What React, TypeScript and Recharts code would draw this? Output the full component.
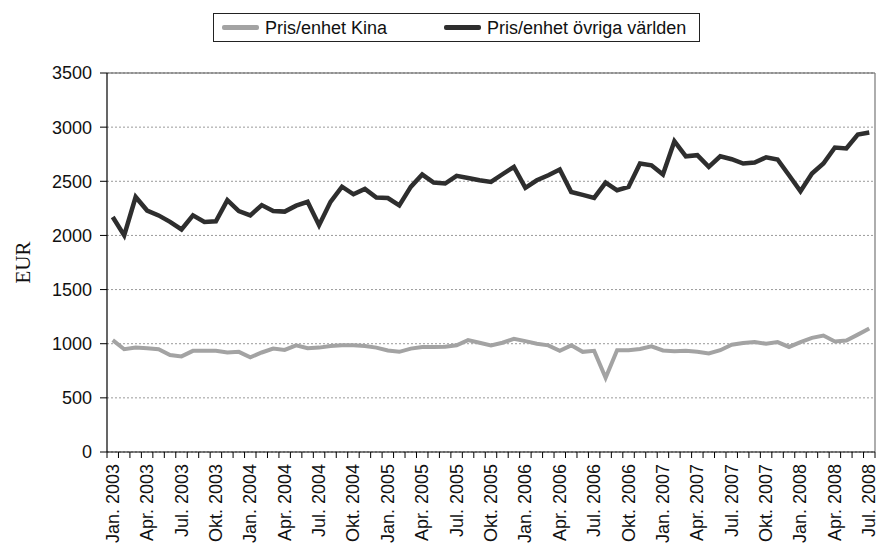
import React from 'react'
import {
  LineChart, Line, XAxis, YAxis, CartesianGrid, ReferenceLine,
} from 'recharts'

// ─── Colours / fonts ──────────────────────────────────────────────────────────
const DARK  = '#2e2e2e'
const LIGHT = '#a3a3a3'
const GRID  = '#9a9a9a'
const SANS  = '"Liberation Sans", Arial, sans-serif'
const SERIF = '"Liberation Serif", "Times New Roman", serif'

// ─── Data ─────────────────────────────────────────────────────────────────────
const MONTH_NAMES = ['Jan.', 'Feb.', 'Mar.', 'Apr.', 'Maj', 'Jun.', 'Jul.', 'Aug.', 'Sep.', 'Okt.', 'Nov.', 'Dec.']
const YEARS = [2003, 2004, 2005, 2006, 2007, 2008]
const LAST_MONTH_2008 = 6 // Jul.

// Pris/enhet övriga världen (EUR), Jan. 2003 – Jul. 2008
const OVRIGA = [
  2170, 2000, 2355, 2230, 2185, 2125, 2055, 2185, 2125, 2130, 2325, 2225,
  2185, 2280, 2225, 2220, 2275, 2310, 2095, 2310, 2450, 2380, 2430, 2350,
  2345, 2278, 2448, 2562, 2488, 2479, 2550, 2531, 2509, 2494, 2565, 2633,
  2439, 2509, 2556, 2608, 2401, 2374, 2346, 2488, 2417, 2448, 2664, 2648,
  2562, 2870, 2731, 2741, 2633, 2731, 2704, 2664, 2673, 2722, 2701, 2556,
  2408, 2571, 2664, 2812, 2803, 2932, 2951,
]

// Pris/enhet Kina (EUR)
const KINA = [
  1033, 949, 964, 958, 949, 895, 883, 934, 934, 934, 919, 925,
  874, 919, 955, 943, 985, 958, 964, 979, 985, 985, 979, 964,
  937, 925, 955, 970, 970, 973, 985, 1033, 1009, 985, 1009, 1045,
  1024, 1000, 985, 934, 985, 925, 934, 685, 940, 940, 952, 976,
  938, 931, 934, 925, 910, 940, 991, 1006, 1015, 1000, 1015, 970,
  1015, 1054, 1075, 1021, 1030, 1084, 1140,
]

const Y_TICKS = [0, 500, 1000, 1500, 2000, 2500, 3000, 3500]
const LABEL_EVERY = 3

const MONTHS: string[] = []
YEARS.forEach(y => {
  MONTH_NAMES.forEach((m, i) => {
    if (y === 2008 && i > LAST_MONTH_2008) return
    MONTHS.push(`${m} ${y}`)
  })
})

const data = MONTHS.map((label, i) => ({ i, label, kina: KINA[i], ovriga: OVRIGA[i] }))
const N = data.length

// ─── Layout ───────────────────────────────────────────────────────────────────
const W = 878
const H = 547
const PLOT_LEFT = 107
const PLOT_RIGHT = 875
const BAND = (PLOT_RIGHT - PLOT_LEFT) / N

// ─── X tick: boundary tick marks + rotated label every third month ───────────
function MonthTick({ x, y, payload }: { x: number; y: number; payload: { value: number } }) {
  const idx = payload.value
  const showLabel = idx % LABEL_EVERY === 0
  const top = y - 8
  return (
    <g>
      <line x1={x - BAND / 2} x2={x - BAND / 2} y1={top} y2={top + 6} stroke="#000" strokeWidth={1} />
      {idx === N - 1 && (
        <line x1={x + BAND / 2} x2={x + BAND / 2} y1={top} y2={top + 6} stroke="#000" strokeWidth={1} />
      )}
      {showLabel && (
        <text
          x={0} y={0}
          transform={`translate(${x},${top + 12}) rotate(-90)`}
          textAnchor="end" dominantBaseline="central"
          fontSize={18} fontFamily={SANS} fill="#111"
        >
          {MONTHS[idx]}
        </text>
      )}
    </g>
  )
}

// ─── Legend box ───────────────────────────────────────────────────────────────
function LegendBox() {
  const item = (color: string, text: string) => (
    <span style={{ display: 'inline-flex', alignItems: 'center' }}>
      <span style={{ display: 'inline-block', width: 37, height: 5, borderRadius: 2, background: color, marginRight: 6 }} />
      <span>{text}</span>
    </span>
  )
  return (
    <div style={{
      position: 'absolute', left: 213, top: 13,
      border: '1.5px solid #222', width: 487, height: 29, boxSizing: 'border-box',
      display: 'flex', alignItems: 'center', paddingLeft: 8, gap: 57,
      fontFamily: SANS, fontSize: 18, color: '#111', background: '#fff', lineHeight: 1,
    }}>
      {item(LIGHT, 'Pris/enhet Kina')}
      {item(DARK, 'Pris/enhet övriga världen')}
    </div>
  )
}

function EurLabel({ viewBox }: { viewBox?: { x: number; y: number; width: number; height: number } }) {
  if (!viewBox) return null
  const cx = viewBox.x + 23
  const cy = viewBox.y + viewBox.height / 2
  return (
    <text x={0} y={0} transform={`translate(${cx},${cy}) rotate(-90)`} textAnchor="middle" dominantBaseline="central"
      fontSize={21} fontFamily={SERIF} fill="#111">
      EUR
    </text>
  )
}

export default function App() {
  return (
    <div style={{ position: 'absolute', left: 0, top: 0, width: W, height: H, background: '#fff' }}>
      <LineChart width={W} height={H} data={data} margin={{ top: 73, right: W - PLOT_RIGHT, left: 0, bottom: 0 }}>
        <CartesianGrid stroke={GRID} strokeDasharray="2 2" vertical={false} />
        <XAxis
          dataKey="i" type="number" domain={[-0.5, N - 0.5]}
          ticks={data.map(d => d.i)} interval={0}
          tick={MonthTick as never} tickLine={false}
          axisLine={{ stroke: '#000', strokeWidth: 1.2 }}
          height={95}
        />
        <YAxis
          domain={[0, 3500]} ticks={Y_TICKS} width={PLOT_LEFT}
          tick={{ fill: '#111', fontSize: 18, fontFamily: SANS }}
          tickSize={7} tickMargin={8}
          tickLine={{ stroke: '#000' }} axisLine={{ stroke: '#000', strokeWidth: 1.2 }}
          label={<EurLabel />}
        />
        <ReferenceLine y={3500} stroke="#555" strokeWidth={1.2} />
        <ReferenceLine x={N - 0.5} stroke="#777" strokeWidth={1.2} />
        <Line type="linear" dataKey="kina" stroke={LIGHT} strokeWidth={4} dot={false} isAnimationActive={false} />
        <Line type="linear" dataKey="ovriga" stroke={DARK} strokeWidth={4.5} dot={false} isAnimationActive={false} />
      </LineChart>
      <LegendBox />
    </div>
  )
}
